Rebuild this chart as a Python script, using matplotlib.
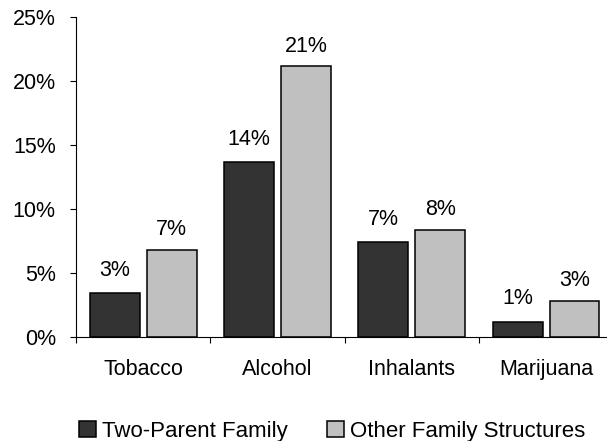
import matplotlib
matplotlib.use("Agg")
import matplotlib.pyplot as plt
import numpy as np
from matplotlib.ticker import FuncFormatter

# substance use by family structure
categories = ["Tobacco", "Alcohol", "Inhalants", "Marijuana"]
two_parent = [3.4, 13.65, 7.4, 1.2]
other_family = [6.8, 21.15, 8.35, 2.8]
series_names = ["Two-Parent Family", "Other Family Structures"]
y_ticks = [0, 5, 10, 15, 20, 25]

plt.rcParams["font.family"] = ["Liberation Sans", "DejaVu Sans"]
fs = 15.5

fig = plt.figure(figsize=(6.07, 4.41), dpi=100)
ax = fig.add_axes([0.1252, 0.236, 0.885, 0.7255])

x = np.arange(len(categories))
w = 0.372
gap = 0.052
b1 = ax.bar(x - (w + gap) / 2, two_parent, w, color="#333333",
            edgecolor="black", linewidth=1.1)
b2 = ax.bar(x + (w + gap) / 2, other_family, w, color="#c0c0c0",
            edgecolor="black", linewidth=1.1)

for bars, vals, off in [(b1, two_parent, 9), (b2, other_family, 7)]:
    for rect, v in zip(bars, vals):
        ax.annotate(f"{round(v):.0f}%",
                    (rect.get_x() + rect.get_width() / 2, v),
                    xytext=(0, off), textcoords="offset points",
                    ha="center", va="bottom", fontsize=fs)

ax.set_xlim(-0.5, len(categories) - 0.5)
ax.set_ylim(0, 25)
ax.set_yticks(y_ticks)
ax.yaxis.set_major_formatter(FuncFormatter(lambda v, p: f"{v:.0f}%"))

ax.set_xticks(x)
ax.set_xticklabels(categories)
ax.set_xticks(np.arange(len(categories) + 1) - 0.5, minor=True)
ax.tick_params(axis="x", which="major", length=0, pad=16, labelsize=fs)
ax.tick_params(axis="x", which="minor", length=4.5, width=0.8, direction="out")
ax.tick_params(axis="y", length=4.5, width=0.8, pad=10, labelsize=fs)

for s in ["top", "right"]:
    ax.spines[s].set_visible(False)
for s in ["left", "bottom"]:
    ax.spines[s].set_linewidth(0.8)

fig.legend([b1, b2], series_names, loc="center", ncol=2, frameon=False,
           bbox_to_anchor=(0.547, 0.022), fontsize=16, handlelength=0.73,
           handleheight=0.73, handletextpad=0.27, columnspacing=1.8,
           borderpad=0, borderaxespad=0)

fig.savefig("out.png", dpi=100)
